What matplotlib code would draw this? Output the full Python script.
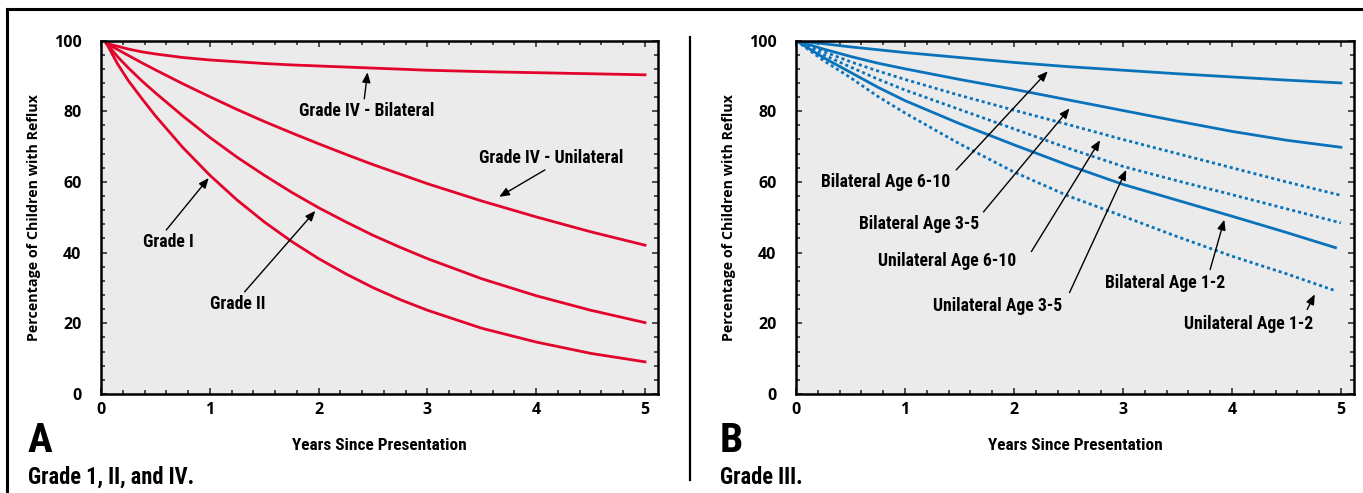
import matplotlib
matplotlib.use("Agg")
import matplotlib.pyplot as plt
from matplotlib import font_manager
from matplotlib.lines import Line2D
from matplotlib.ticker import MultipleLocator

# ---- data (years, % of children with reflux) ----
years_a = [0.05, 0.15, 0.25, 0.375, 0.5, 0.75, 1, 1.25, 1.5, 1.75, 2, 2.25, 2.5, 2.75,
           3, 3.5, 4, 4.5, 5]
grade_1 = [99.2, 93.5, 88.7, 83.6, 78.7, 69.8, 61.9, 54.9, 48.7, 43.2, 38.3, 34.0, 30.1, 26.7,
           23.7, 18.6, 14.7, 11.5, 9.1]
grade_2 = [99.2, 95.5, 92.3, 88.6, 85.2, 78.7, 72.6, 67.0, 61.9, 57.1, 52.7, 48.7, 44.9, 41.5,
           38.3, 32.6, 27.8, 23.7, 20.2]
grade_4_uni = [99.2, 97.5, 95.8, 93.7, 91.7, 87.8, 84.1, 80.5, 77.1, 73.9, 70.8, 67.8, 64.9, 62.2,
               59.5, 54.6, 50.1, 45.9, 42.1]
grade_4_bil = [99.2, 98.4, 97.6, 96.8, 96.2, 95.2, 94.5, 94.0, 93.5, 93.1, 92.8, 92.5, 92.2, 91.9,
               91.6, 91.2, 90.9, 90.6, 90.3]

years_b = [0, 0.25, 0.5, 0.75, 1, 1.5, 2, 2.5, 3, 3.5, 4, 4.5, 5]
bil_6_10 = [100, 99.1, 98.2, 97.4, 96.6, 95.2, 93.8, 92.6, 91.6, 90.6, 89.7, 88.8, 88.0]
bil_3_5 = [100, 97.6, 95.5, 93.6, 92.0, 89.0, 86.2, 83.2, 80.2, 77.2, 74.3, 71.8, 69.8]
uni_6_10 = [100, 96.9, 94.0, 91.4, 89.0, 84.5, 80.3, 76.2, 72.0, 68.0, 64.0, 60.0, 56.2]
uni_3_5 = [100, 96.0, 92.5, 89.1, 86.0, 80.5, 75.0, 69.5, 64.4, 60.3, 56.4, 52.4, 48.4]
years_b12 = [0, 0.25, 0.5, 0.75, 1, 1.5, 2, 2.5, 3, 3.5, 4, 4.5, 4.95]
bil_1_2 = [100, 95.2, 91.0, 86.8, 83.0, 76.5, 70.5, 64.7, 59.3, 54.8, 50.3, 45.7, 41.4]
uni_1_2 = [100, 94.4, 89.5, 84.2, 79.5, 70.8, 62.8, 56.0, 50.3, 44.5, 39.0, 34.0, 29.2]

# annotations: label, text position, arrow start, arrow tip (data coords)
labels_a = [
    ("Grade IV - Bilateral", (2.44, 80.0), (2.42, 83.5), (2.45, 91.0)),
    ("Grade IV - Unilateral", (4.14, 66.8), (4.08, 63.4), (3.66, 55.8)),
    ("Grade I", (0.62, 43.1), (0.60, 46.4), (0.99, 61.1)),
    ("Grade II", (1.26, 25.4), (1.32, 28.9), (1.97, 51.8)),
]
labels_b = [
    ("Bilateral Age 6-10", (0.82, 60.0), (1.47, 63.4), (2.31, 91.3)),
    ("Bilateral Age 3-5", (1.13, 48.2), (1.72, 51.5), (2.51, 80.8)),
    ("Unilateral Age 6-10", (1.39, 37.5), (2.16, 40.3), (2.79, 71.8)),
    ("Unilateral Age 3-5", (1.85, 24.8), (2.51, 28.7), (3.03, 63.4)),
    ("Bilateral Age 1-2", (3.39, 31.5), (3.80, 35.2), (3.93, 49.3)),
    ("Unilateral Age 1-2", (4.15, 19.7), (4.69, 23.9), (4.76, 28.2)),
]

RED = "#e3042b"
BLUE = "#0a72ba"
TICKFONT = ["Open Sans", "DejaVu Sans"]

# pick a narrow bold face if one is installed, else Roboto
_fonts = font_manager.fontManager.ttflist
_names = {f.name for f in _fonts}
NARROW, STRETCH = ["Roboto", "DejaVu Sans"], "normal"
for cand in ["Liberation Sans Narrow", "Roboto Condensed", "Open Sans Condensed"]:
    if cand in _names:
        NARROW, STRETCH = [cand, "DejaVu Sans"], "condensed"
        break
else:
    if any(f.name == "DejaVu Sans" and f.stretch in ("condensed", "semi-condensed") for f in _fonts):
        NARROW, STRETCH = ["DejaVu Sans"], "condensed"

fig = plt.figure(figsize=(13.63, 4.93), dpi=100)
_renderer = fig.canvas.get_renderer()


def fit_size(text, target_px, base=12):
    # font size that makes text about target_px wide in the narrow face
    t = fig.text(0, 0, text, family=NARROW, fontweight="bold", fontsize=base, fontstretch=STRETCH)
    w = t.get_window_extent(_renderer).width
    t.remove()
    return base * target_px / w


LABEL_SIZE = fit_size("Grade IV - Bilateral", 135)
XLABEL_SIZE = fit_size("Years Since Presentation", 175)
CAPTION_SIZE = fit_size("Grade 1, II, and IV.", 167)


def style_axes(ax):
    ax.set_facecolor("#ebebeb")
    ax.set_xlim(0, 5.12)
    ax.set_ylim(0, 100)
    ax.xaxis.set_major_locator(MultipleLocator(1))
    ax.xaxis.set_minor_locator(MultipleLocator(0.2))
    ax.yaxis.set_major_locator(MultipleLocator(20))
    ax.yaxis.set_minor_locator(MultipleLocator(4))
    ax.tick_params(which="both", direction="in", top=True, right=True, width=1.1, color="#222222")
    ax.tick_params(which="major", length=4.5)
    ax.tick_params(which="minor", length=2.7)
    ax.tick_params(axis="y", which="major", pad=14)
    ax.tick_params(axis="x", which="major", pad=6)
    for s in ax.spines.values():
        s.set_linewidth(1.8)
    for lab in ax.get_xticklabels() + ax.get_yticklabels():
        lab.set_family(TICKFONT)
        lab.set_fontweight("bold")
        lab.set_fontsize(11.5)
    ax.set_xlabel("Years Since Presentation", family=NARROW, fontweight="bold",
                  fontstretch=STRETCH, fontsize=XLABEL_SIZE, labelpad=14)
    ax.set_ylabel("Percentage of Children with Reflux", family=TICKFONT,
                  fontweight="bold", fontsize=10.3, labelpad=9)


def add_labels(ax, labels):
    for text, pos, start, tip in labels:
        ax.text(pos[0], pos[1], text, family=NARROW, fontweight="bold", fontstretch=STRETCH,
                fontsize=LABEL_SIZE, ha="center", va="center")
        ax.annotate("", xy=tip, xytext=start,
                    arrowprops=dict(arrowstyle="-|>,head_length=0.6,head_width=0.25",
                                    color="black", lw=1.0, shrinkA=0, shrinkB=0,
                                    mutation_scale=10))


ax_a = fig.add_axes([0.0741, 0.2008, 0.4087, 0.717])
ax_b = fig.add_axes([0.5840, 0.2008, 0.4094, 0.717])

for ys in [grade_4_bil, grade_4_uni, grade_2, grade_1]:
    ax_a.plot(years_a, ys, color=RED, lw=2.0)

for ys in [bil_6_10, bil_3_5]:
    ax_b.plot(years_b, ys, color=BLUE, lw=2.0)
for ys in [uni_6_10, uni_3_5]:
    ax_b.plot(years_b, ys, color=BLUE, lw=2.0, linestyle=(0, (1.1, 1.1)))
ax_b.plot(years_b12, bil_1_2, color=BLUE, lw=2.0)
ax_b.plot(years_b12, uni_1_2, color=BLUE, lw=2.0, linestyle=(0, (1.1, 1.1)))

style_axes(ax_a)
style_axes(ax_b)
add_labels(ax_a, labels_a)
add_labels(ax_b, labels_b)

# panel letters and captions
for x0, letter, caption in [(28, "A", "Grade 1, II, and IV."), (720, "B", "Grade III.")]:
    fig.text(x0 / 1363, 1 - 452 / 493, letter, family=NARROW, fontweight="bold",
             fontstretch=STRETCH, fontsize=LABEL_SIZE * 2.35, ha="left", va="baseline")
    fig.text(x0 / 1363, 1 - 484 / 493, caption, family=NARROW, fontweight="bold",
             fontstretch=STRETCH, fontsize=CAPTION_SIZE, ha="left", va="baseline")

# outer frame and separator
fig.add_artist(Line2D([7 / 1363, 1], [1 - 9 / 493, 1 - 9 / 493], color="black", lw=2.2))
fig.add_artist(Line2D([7 / 1363, 7 / 1363], [0, 1 - 9 / 493], color="black", lw=2.2))
fig.add_artist(Line2D([690 / 1363, 690 / 1363], [1 - 37 / 493, 1 - 480 / 493], color="black", lw=1.6))

fig.savefig("out.png", dpi=100)
